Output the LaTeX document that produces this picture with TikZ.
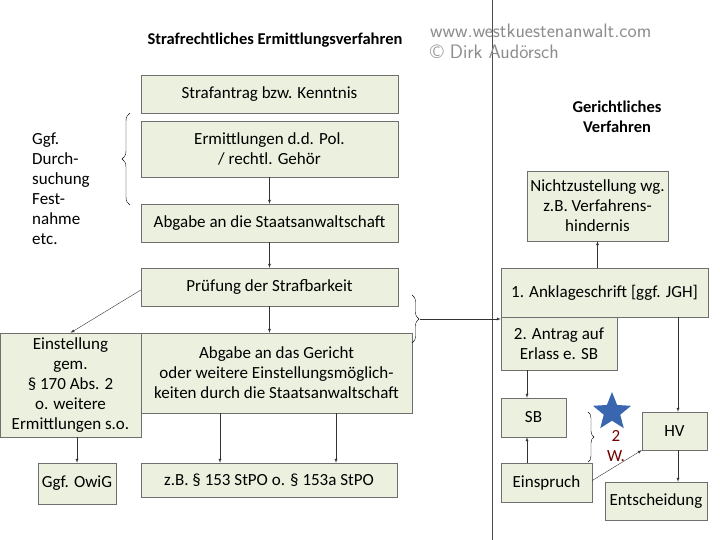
\documentclass[tikz,border=0pt]{standalone}
\usepackage{fontspec}
\setmainfont{Carlito}
\usetikzlibrary{decorations.pathreplacing,shapes.geometric}
\definecolor{boxfill}{HTML}{EBF1DE}
\definecolor{boxline}{HTML}{6F6F6F}
\definecolor{starblue}{HTML}{3A66B0}
\tikzset{
  box/.style={draw=boxline,fill=boxfill,align=center,inner sep=2pt,font=\fontsize{17}{20}\selectfont},
  arr/.style={-latex,black!80}
}
\newcommand{\boxat}[6]{% name, x1, y1, x2, y2, text
  \node[box,minimum width={(#4-#2)*1pt},minimum height={(#5-#3)*1pt}] (#1) at ({(#2+#4)/2},{(#3+#5)/2}) {#6};}
\begin{document}
\begin{tikzpicture}[x=1pt,y=-1pt]
\useasboundingbox (0,0) rectangle (720,540);
% the dividing line
\draw[black!70] (492,0) -- (492,540);
% titles
\node[font=\bfseries\fontsize{16.5}{19}\selectfont] (title1) at (275,40) {Strafrechtliches Ermittlungsverfahren};
\node[font=\bfseries\fontsize{16.5}{20}\selectfont,align=center] (title2) at (617,117) {Gerichtliches\\Verfahren};
\node[anchor=west,text=black!45,font=\sffamily\fontsize{19.5}{21}\selectfont,align=left,inner sep=0pt] (mark) at (430,41) {www.westkuestenanwalt.com\\\textcopyright{} Dirk Audörsch};
% left column
\boxat{antrag}{141}{75}{398}{113}{Strafantrag bzw. Kenntnis}
\boxat{ermitt}{141}{121}{398}{177}{Ermittlungen d.d. Pol.\\/ rechtl. Gehör}
\boxat{abgabe}{141}{204}{398}{242}{Abgabe an die Staatsanwaltschaft}
\boxat{pruef}{141}{268}{398}{306}{Prüfung der Strafbarkeit}
\boxat{gericht}{141}{333}{412}{413}{Abgabe an das Gericht\\oder weitere Einstellungsmöglich-\\keiten durch die Staatsanwaltschaft}
\boxat{einst}{0}{333}{141}{437}{Einstellung\\gem.\\§ 170 Abs. 2\\o. weitere\\Ermittlungen s.o.}
\boxat{owig}{38}{463}{116}{504}{Ggf. OwiG}
\boxat{stpo}{141}{463}{397}{497}{z.B. § 153 StPO o. § 153a StPO}
% right column
\boxat{nicht}{527}{171}{668}{241}{Nichtzustellung wg.\\z.B. Verfahrens-\\hindernis}
\boxat{anklage}{501}{268}{708}{317}{1. Anklageschrift [ggf. JGH]}
\boxat{sbantrag}{501}{317}{617}{370}{2. Antrag auf\\Erlass e. SB}
\boxat{sb}{501}{398}{566}{437}{SB}
\boxat{einspr}{501}{463}{592}{502}{Einspruch}
\boxat{hv}{642}{412}{707}{450}{HV}
\boxat{entsch}{605}{482}{707}{520}{Entscheidung}
% side note and braces
\node[anchor=north west,align=left,font=\fontsize{17}{20}\selectfont,inner sep=0pt] (note) at (32,133) {Ggf.\\Durch-\\suchung\\Fest-\\nahme\\etc.};
\draw[decorate,decoration={brace,amplitude=8pt}] (130,205) -- (130,113);
\draw[decorate,decoration={brace,amplitude=7pt}] (412,295) -- (412,343);
\coordinate (btip) at (420,319);
\draw[decorate,decoration={brace,amplitude=6pt}] (588,412) -- (588,462);
\node[text=red!45!black,align=center,font=\fontsize{17}{20}\selectfont] (frist) at (616,446) {2\\W.};
\node[star,star points=5,star point ratio=2.3,fill=starblue,minimum size=40pt,inner sep=0pt] (star) at (612,412) {};
% arrows
\draw[arr] (ermitt) -- (abgabe);
\draw[arr] (abgabe) -- (pruef);
\draw[arr] (pruef) -- (gericht.north -| pruef);
\draw[arr] (pruef.west) ++(0,3) -- (einst.north);
\draw[arr] (einst.south -| owig) -- (owig);
\draw[arr] (gericht.south -| 220,0) -- (stpo.north -| 220,0);
\draw[arr] (gericht.south -| 336,0) -- (stpo.north -| 336,0);
\draw[arr] (btip) -- (anklage.west |- btip);
\draw[arr] (anklage.north -| nicht) -- (nicht);
\draw[arr] (sbantrag.south -| 527,0) -- (sb.north -| 527,0);
\draw[arr] (einspr.north -| 527,0) -- (sb.south -| 527,0);
\draw[arr] (einspr.east) ++(0,-2) -- (hv.south west);
\draw[arr] (anklage.south -| 678,0) -- (hv.north -| 678,0);
\draw[arr] (hv.south -| 678,0) -- (entsch.north -| 678,0);
\end{tikzpicture}
\end{document}
